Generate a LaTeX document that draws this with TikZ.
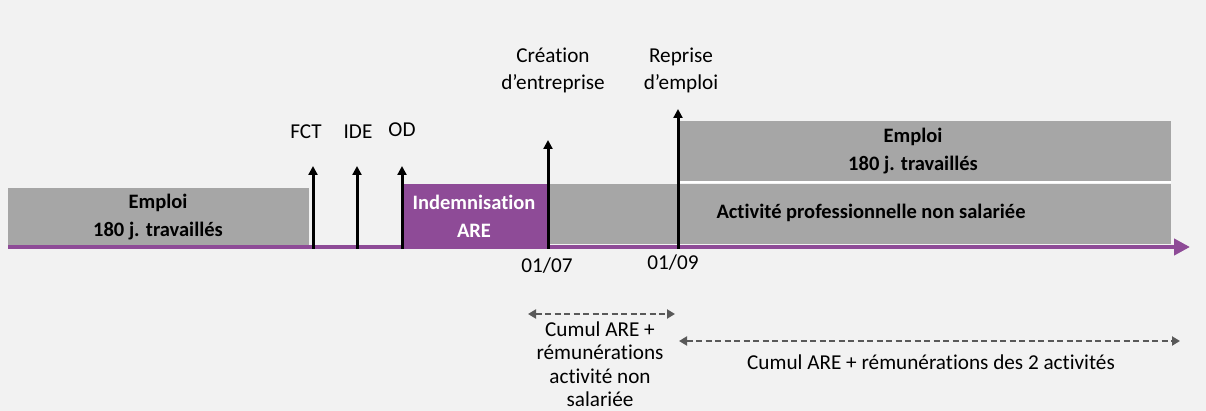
\documentclass[tikz,border=0pt]{standalone}
\usepackage{fontspec}
\setmainfont[Ligatures={NoCommon}]{Carlito}
\usetikzlibrary{arrows.meta}
\definecolor{bg}{HTML}{F2F2F2}
\definecolor{boxgrey}{HTML}{A6A6A6}
\definecolor{purp}{HTML}{8E4B97}
\definecolor{dashgrey}{HTML}{595959}
\tikzset{
  txt/.style={font=\fontsize{21.2}{27}\selectfont, align=center, inner sep=0pt, text=black},
  boldtxt/.style={font=\fontsize{20.5}{28}\selectfont\bfseries, align=center, inner sep=0pt},
  greybox/.style={fill=boxgrey, draw=none, anchor=north west, inner sep=0pt},
  purpbox/.style={fill=purp, draw=none, anchor=north west, inner sep=0pt},
  evarrow/.style={line width=3pt, draw=black, -{Triangle[length=9pt,width=9pt]}},
  timeline/.style={line width=4pt, draw=purp, -{Triangle[length=16pt,width=16pt]}},
  cumul/.style={line width=2pt, draw=dashgrey, dash pattern=on 6pt off 3.5pt, {Triangle[length=8pt,width=9pt]}-{Triangle[length=8pt,width=9pt]}}
}
\begin{document}
\begin{tikzpicture}[x=1pt,y=-1pt]
\useasboundingbox[fill=bg] (0,0) rectangle (1206,411);
% boxes
\node[greybox, minimum width=301, minimum height=58] (emp1) at (8,188) {};
\node[purpbox, minimum width=145, minimum height=62] (ind) at (403,184) {};
\node[greybox, minimum width=622, minimum height=60] (act) at (549,184) {};
\node[greybox, minimum width=491, minimum height=60] (emp2) at (680,121) {};
% separator
\draw[white, line width=2pt] (680,182.5) -- (1171,182.5);
% box texts
\node[boldtxt] (emp1t) at (158,217.5) {Emploi\\180 j. travaillés};
\node[boldtxt, text=white] (indt) at (474,216.5) {Indemnisation\\ARE};
\node[boldtxt] (actt) at (871,213) {Activité professionnelle non salariée};
\node[boldtxt] (emp2t) at (913,151) {Emploi\\180 j. travaillés};
% timeline
\coordinate (tl0) at (8,247);
\coordinate (tl1) at (1190,247);
\draw[timeline] (tl0) -- (tl1);
% event arrows
\coordinate (fctb) at (313,249); \coordinate (fcta) at (313,166);
\coordinate (ideb) at (357,249); \coordinate (idea) at (357,166);
\coordinate (odb) at (402,249); \coordinate (oda) at (402,166);
\coordinate (creb) at (548,249); \coordinate (crea) at (548,140);
\coordinate (repb) at (678,249); \coordinate (repa) at (678,109);
\draw[evarrow] (fctb) -- (fcta);
\draw[evarrow] (ideb) -- (idea);
\draw[evarrow] (odb) -- (oda);
\draw[evarrow] (creb) -- (crea);
\draw[evarrow] (repb) -- (repa);
% labels
\node[txt] (fct) at (306,132) {FCT};
\node[txt] (ide) at (358,132) {IDE};
\node[txt] (od) at (402,130) {OD};
\node[txt] (cre) at (553,70) {Création\\d’entreprise};
\node[txt] (rep) at (681,70) {Reprise\\d’emploi};
\node[txt] (d07) at (547,266) {01/07};
\node[txt] (d09) at (673,263) {01/09};
% cumul arrows
\coordinate (c1a) at (528,314); \coordinate (c1b) at (675,314);
\coordinate (c2a) at (679,341); \coordinate (c2b) at (1180,341);
\draw[cumul] (c1a) -- (c1b);
\draw[cumul] (c2a) -- (c2b);
\node[txt, font=\fontsize{21.2}{23.5}\selectfont] (cum1) at (600,364) {Cumul ARE +\\rémunérations\\activité non\\salariée};
\node[txt] (cum2) at (931,362) {Cumul ARE + rémunérations des 2 activités};
\end{tikzpicture}
\end{document}
